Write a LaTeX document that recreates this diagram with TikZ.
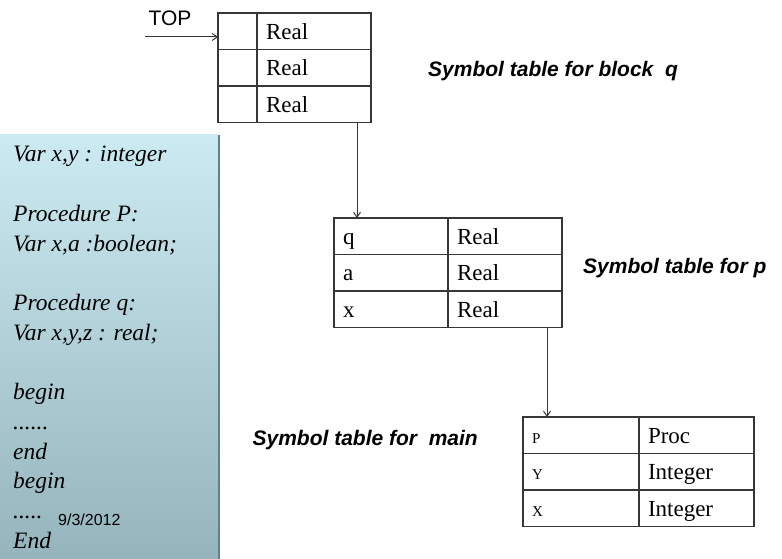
\documentclass[tikz,border=0pt]{standalone}
\usepackage{fontspec}
\setmainfont{Liberation Serif}
\setsansfont{Liberation Sans}
\usetikzlibrary{positioning,arrows.meta}
\definecolor{paneltop}{RGB}{204,234,241}
\definecolor{panelbot}{RGB}{150,180,188}
\definecolor{panelrim}{RGB}{105,125,132}
\definecolor{rule}{RGB}{55,55,55}

\begin{document}
\begin{tikzpicture}[x=1pt,y=-1pt,
   cell/.style={draw=rule,line width=1.2pt,outer sep=0pt,inner xsep=9pt,inner ysep=0pt,
     minimum height=36.5pt,text height=16pt,text depth=0pt,align=left,
     font=\fontsize{23}{26}\selectfont},
   small/.style={font=\fontsize{15}{17}\selectfont},
   caption/.style={font=\sffamily\bfseries\itshape\fontsize{21}{25}\selectfont,inner sep=0pt},
   code/.style={font=\itshape\fontsize{23.5}{26}\selectfont,anchor=base west,inner sep=0pt},
   ptr/.style={draw=rule,line width=1pt,-{Straight Barb[length=5pt,width=7pt]}}]
  \useasboundingbox (0,0) rectangle (782,559);

  % program text on the shaded panel
  \shade[top color=paneltop,bottom color=panelbot] (0,135) rectangle (218,559);
  \draw[panelrim,line width=2pt] (219,135) -- (219,559);
  \foreach \k/\txt in {0/{Var x,y : integer},2/{Procedure P:},3/{Var x,a :boolean;},
      5/{Procedure q:},6/{Var x,y,z : real;},8/{begin},9/{......},10/{end},
      11/{begin},12/{.....},13/{End}}
    \node[code] (code\k) at (13,{162+29.7*\k}) {\txt};
  \node[font=\sffamily\fontsize{16}{18}\selectfont,anchor=base west,inner sep=0pt]
    (date) at (58,525) {9/3/2012};

  % symbol table for block q
  \node[cell,text width=21pt,anchor=north west] (q1l) at (218,13) {};
  \node[cell,text width=96pt,right=0pt of q1l] (q1r) {Real};
  \node[cell,text width=21pt,below=0pt of q1l] (q2l) {};
  \node[cell,text width=96pt,right=0pt of q2l] (q2r) {Real};
  \node[cell,text width=21pt,below=0pt of q2l] (q3l) {};
  \node[cell,text width=96pt,right=0pt of q3l] (q3r) {Real};

  % symbol table for p
  \node[cell,text width=96pt,anchor=north west] (p1l) at (334,218) {q};
  \node[cell,text width=96pt,right=0pt of p1l] (p1r) {Real};
  \node[cell,text width=96pt,below=0pt of p1l] (p2l) {a};
  \node[cell,text width=96pt,right=0pt of p2l] (p2r) {Real};
  \node[cell,text width=96pt,below=0pt of p2l] (p3l) {x};
  \node[cell,text width=96pt,right=0pt of p3l] (p3r) {Real};

  % symbol table for main
  \node[cell,small,text width=98pt,anchor=north west] (m1l) at (523,417) {P};
  \node[cell,text width=97pt,right=0pt of m1l] (m1r) {Proc};
  \node[cell,small,text width=98pt,below=0pt of m1l] (m2l) {Y};
  \node[cell,text width=97pt,right=0pt of m2l] (m2r) {Integer};
  \node[cell,small,text width=98pt,below=0pt of m2l] (m3l) {X};
  \node[cell,text width=97pt,right=0pt of m3l] (m3r) {Integer};

  % stack pointer and links
  \node[font=\sffamily\fontsize{21}{24}\selectfont,inner sep=0pt] (toplbl) at (170,18) {TOP};
  \coordinate (topptr) at (145,37);
  \draw[ptr] (topptr) -- (topptr -| q1l.west);
  \draw[ptr] ([xshift=-14pt]q3r.south east) -- ([xshift=-14pt]q3r.south east |- p1l.north);
  \draw[ptr] ([xshift=-15pt]p3r.south east) -- ([xshift=-15pt]p3r.south east |- m1l.north);

  \node[caption,anchor=west] (capq) at (428,71) {Symbol table for block\ \ q};
  \node[caption,anchor=west] (capp) at (583,268) {Symbol table for p};
  \node[caption,anchor=east] (capmain) at (478,440) {Symbol table for\ \ main};
\end{tikzpicture}
\end{document}
